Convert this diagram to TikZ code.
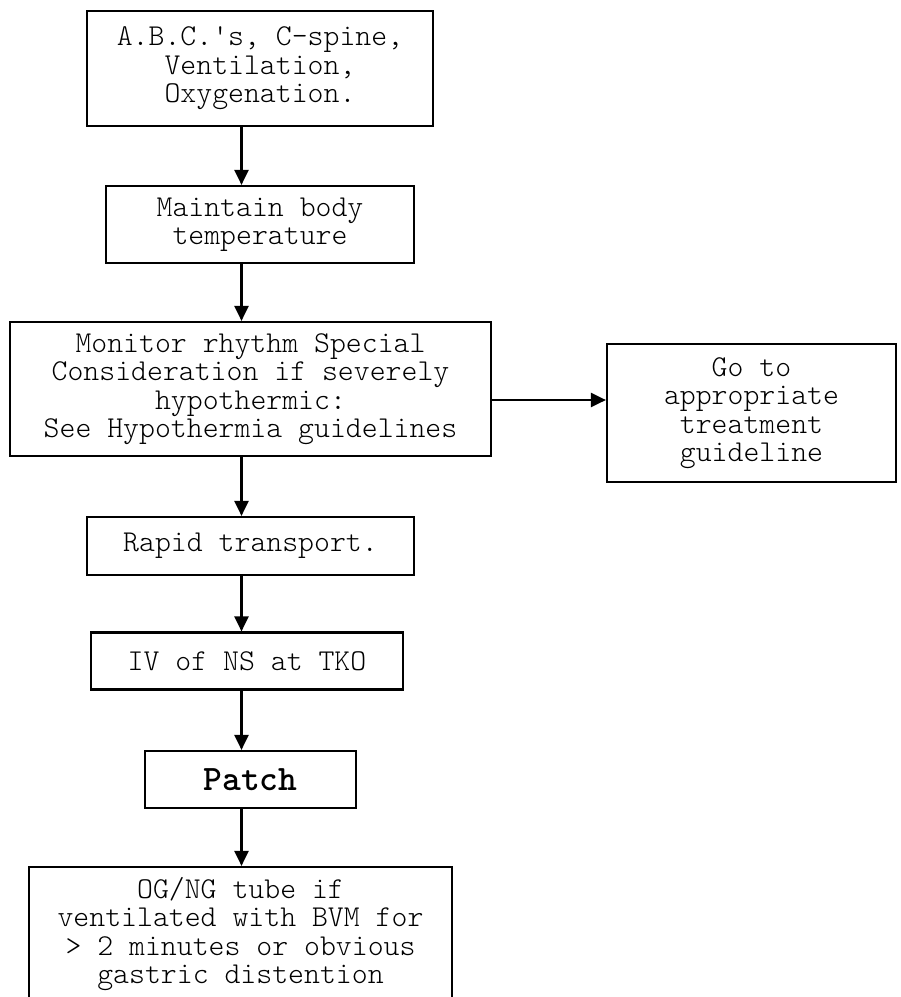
\documentclass[tikz,border=0pt]{standalone}
\usepackage{fontspec}
\setmonofont{Latin Modern Mono Light}
\usetikzlibrary{arrows.meta}
\begin{document}
\begin{tikzpicture}[x=1pt,y=-1pt,
  box/.style={draw, line width=2.2pt, align=center, inner sep=0pt,
    font=\ttfamily\fontsize{30.3}{28.5}\selectfont},
  flow/.style={line width=2.2pt, -{Triangle[width=14pt,length=15pt]}}]
\useasboundingbox (0,0) rectangle (901,997);
\clip (0,0) rectangle (901,997);
\fill[white] (0,0) rectangle (901,997);

% guide positions for the main spine and the side branch
\coordinate (ax) at (241.5,0);
\coordinate (ay) at (0,400);

\node[box, minimum width=346pt, minimum height=115pt] (abc) at (260,68.5)
  {A.B.C.'s, C-spine,\\Ventilation,\\Oxygenation.};
\node[box, minimum width=308pt, minimum height=77pt] (temp) at (260,224.5)
  {Maintain body\\temperature};
\node[box, minimum width=481pt, minimum height=134pt] (monitor) at (250.5,389)
  {Monitor rhythm Special\\Consideration if severely\\hypothermic:\\See Hypothermia guidelines};
\node[box, minimum width=289pt, minimum height=138pt] (goto) at (751.5,413)
  {Go to\\appropriate\\treatment\\guideline};
\node[box, minimum width=327pt, minimum height=58pt] (rapid) at (250.5,546)
  {Rapid transport.};
\node[box, minimum width=312pt, minimum height=57pt] (iv) at (247,661)
  {IV of NS at TKO};
\node[box, minimum width=211pt, minimum height=57pt,
  font=\ttfamily\bfseries\fontsize{35.8}{36}\selectfont] (patch) at (250.5,779.5)
  {Patch};
\node[box, minimum width=423pt, minimum height=134pt] (tube) at (240.5,934)
  {OG/NG tube if\\ventilated with BVM for\\> 2 minutes or obvious\\gastric distention};

\draw[flow] (abc.south -| ax) -- (temp.north -| ax);
\draw[flow] (temp.south -| ax) -- (monitor.north -| ax);
\draw[flow] (monitor.east |- ay) -- (goto.west |- ay);
\draw[flow] (monitor.south -| ax) -- (rapid.north -| ax);
\draw[flow] (rapid.south -| ax) -- (iv.north -| ax);
\draw[flow] (iv.south -| ax) -- (patch.north -| ax);
\draw[flow] (patch.south -| ax) -- (tube.north -| ax);
\end{tikzpicture}
\end{document}
